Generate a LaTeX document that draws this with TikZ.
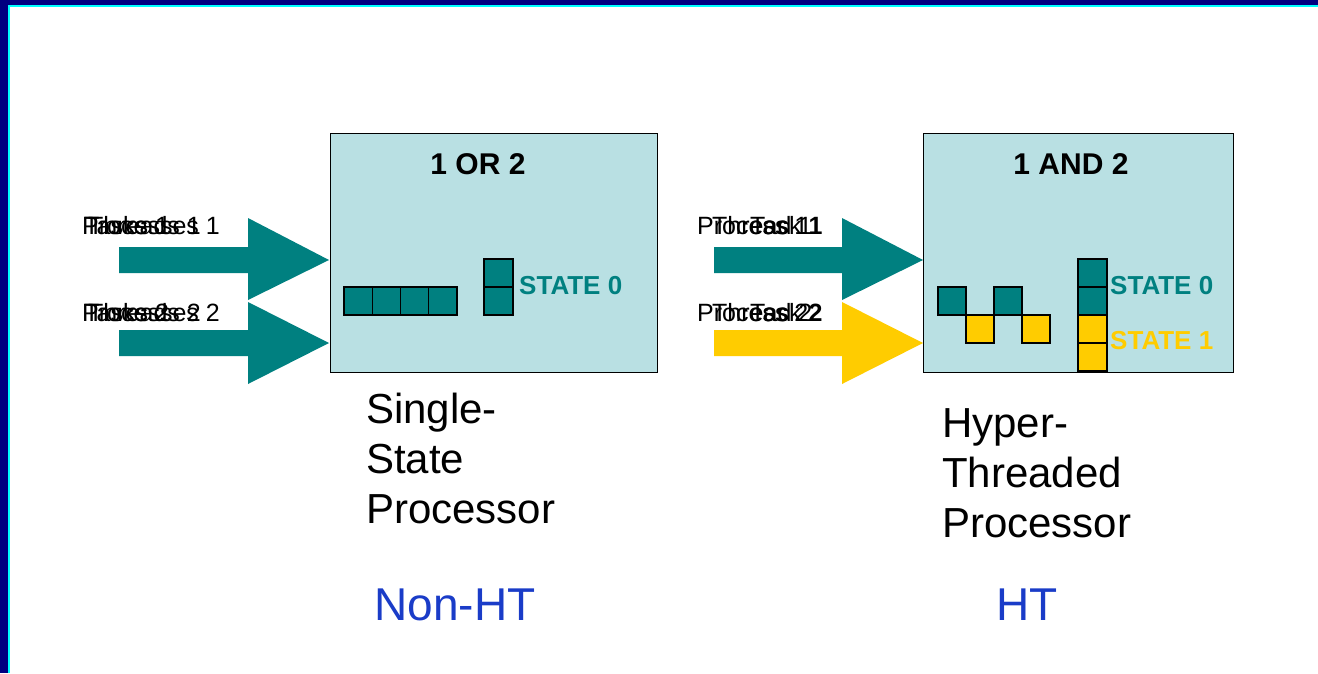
\documentclass[tikz,border=0pt]{standalone}
\usepackage{fontspec}
\setmainfont{Liberation Sans}
\definecolor{navy}{HTML}{000080}
\definecolor{cyanline}{HTML}{00FFFF}
\definecolor{tealc}{HTML}{008080}
\definecolor{yel}{HTML}{FFCC00}
\definecolor{boxfill}{HTML}{B9E0E3}
\definecolor{htblue}{HTML}{1A3CC8}
\tikzset{
  proc/.style={draw=black, line width=1.3pt, fill=boxfill},
  cell/.style={draw=black, line width=1.3pt},
  lbl/.style={anchor=base west, inner sep=0, font=\fontsize{25}{29}\selectfont},
  boxtitle/.style={anchor=base, inner sep=0, font=\fontsize{30}{34}\selectfont\bfseries},
  statetxt/.style={anchor=base west, inner sep=0, font=\fontsize{26}{30}\selectfont\bfseries},
  desc/.style={anchor=base west, inner sep=0, font=\fontsize{42}{50}\selectfont},
  httxt/.style={anchor=base, inner sep=0, text=htblue, font=\fontsize{46}{52}\selectfont},
}
\begin{document}
\begin{tikzpicture}[x=1pt,y=-1pt]
\useasboundingbox (0,0) rectangle (1318,673);
% frame
\fill[white] (0,0) rectangle (1318,673);
\fill[navy] (0,0) rectangle (1318,4.5);
\fill[navy] (0,0) rectangle (7.5,673);
\fill[cyanline] (7.5,4.5) rectangle (1318,6.5);
\fill[cyanline] (7.5,4.5) rectangle (9.5,673);

% ---------- left: non-HT ----------
\node[proc, minimum width=327pt, minimum height=239pt, anchor=north west, inner sep=0] (boxL) at (330,133) {};
\node[boxtitle] (titleL) at (478,174) {1 OR 2};
% arrows
\coordinate (tipL1) at (329,260);
\coordinate (tipL2) at (329,343);
\fill[tealc] (119,247) -- (248,247) -- (248,218) -- (tipL1) -- (248,300) -- (248,273) -- (119,273) -- cycle;
\fill[tealc] (119,330) -- (248,330) -- (248,302) -- (tipL2) -- (248,384) -- (248,356) -- (119,356) -- cycle;
% labels (overlapping, as in the reference)
\node[lbl] (l1a) at (82,234) {Processes 1};
\node[lbl] (l1b) at (88,234) {Threads 1};
\node[lbl] (l1c) at (84,234) {Tasks 1};
\node[lbl] (l2a) at (82,321) {Processes 2};
\node[lbl] (l2b) at (88,321) {Threads 2};
\node[lbl] (l2c) at (84,321) {Tasks 2};
% cells
\foreach \i in {0,1,2,3}{
  \filldraw[cell, fill=tealc] (344+28.25*\i,287) rectangle ++(28.25,28);
}
\filldraw[cell, fill=tealc] (484,259) rectangle (513,287);
\filldraw[cell, fill=tealc] (484,287) rectangle (513,315);
\node[statetxt, text=tealc] (stL0) at (519,294) {STATE 0};
% description
\node[desc] (dL1) at (366,423) {Single-};
\node[desc] (dL2) at (366,473) {State};
\node[desc] (dL3) at (366,523) {Processor};
\node[httxt] (nonht) at (455,620) {Non-HT};

% ---------- right: HT ----------
\node[proc, minimum width=310pt, minimum height=239pt, anchor=north west, inner sep=0] (boxR) at (923,133) {};
\node[boxtitle] (titleR) at (1071,174) {1 AND 2};
\coordinate (tipR1) at (923,260);
\coordinate (tipR2) at (923,343);
\fill[tealc] (714,247) -- (842,247) -- (842,218) -- (tipR1) -- (842,300) -- (842,273) -- (714,273) -- cycle;
\fill[yel] (714,330) -- (842,330) -- (842,302) -- (tipR2) -- (842,384) -- (842,356) -- (714,356) -- cycle;
\node[lbl] (r1a) at (697,234) {Process 1};
\node[lbl] (r1b) at (712,234) {Thread 1};
\node[lbl] (r1c) at (750,234) {Task \textbf{1}};
\node[lbl] (r2a) at (697,321) {Process 2};
\node[lbl] (r2b) at (712,321) {Thread 2};
\node[lbl] (r2c) at (750,321) {Task \textbf{2}};
% cells
\filldraw[cell, fill=tealc] (938,287) rectangle (966,315);
\filldraw[cell, fill=yel] (966,315) rectangle (994,343);
\filldraw[cell, fill=tealc] (994,287) rectangle (1022,315);
\filldraw[cell, fill=yel] (1022,315) rectangle (1050,343);
\filldraw[cell, fill=tealc] (1078,259) rectangle (1107,287);
\filldraw[cell, fill=tealc] (1078,287) rectangle (1107,315);
\filldraw[cell, fill=yel] (1078,315) rectangle (1107,343);
\filldraw[cell, fill=yel] (1078,343) rectangle (1107,371);
\node[statetxt, text=tealc] (stR0) at (1110,294) {STATE 0};
\node[statetxt, text=yel] (stR1) at (1110,349) {STATE 1};
\node[desc] (dR1) at (942,437) {Hyper-};
\node[desc] (dR2) at (942,487) {Threaded};
\node[desc] (dR3) at (942,537) {Processor};
\node[httxt] (ht) at (1027,620) {HT};
\end{tikzpicture}
\end{document}
